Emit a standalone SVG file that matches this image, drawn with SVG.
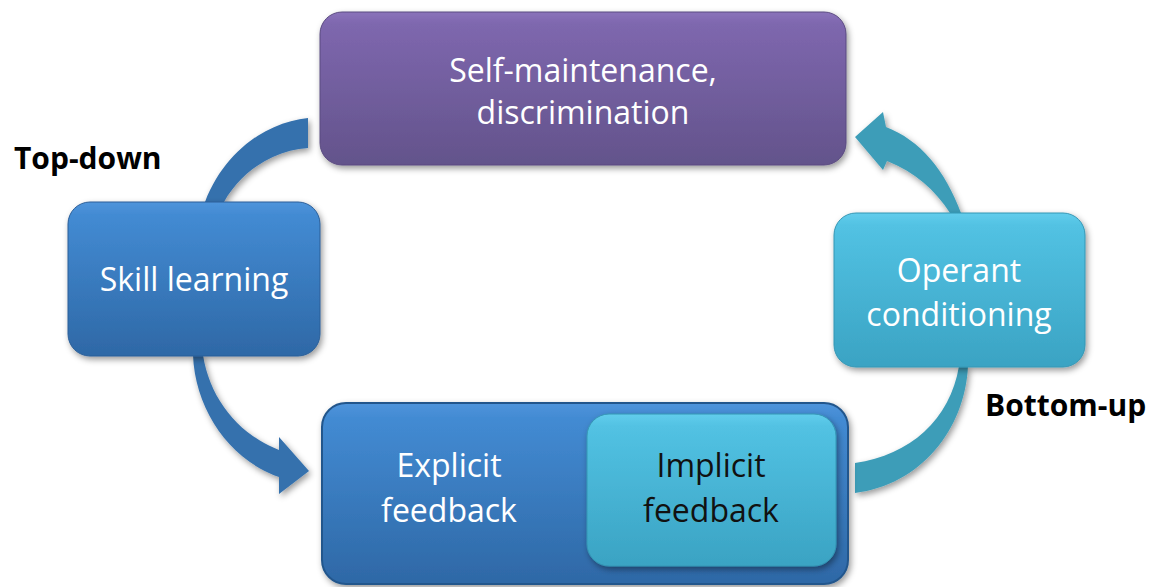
<svg xmlns="http://www.w3.org/2000/svg" width="1161" height="587" viewBox="0 0 1161 587">
<defs>
<linearGradient id="gPurple" x1="0" y1="0" x2="0" y2="1">
<stop offset="0" stop-color="#8a72ba"/><stop offset="0.08" stop-color="#7e67ae"/><stop offset="1" stop-color="#63538b"/>
</linearGradient>
<linearGradient id="gBlue" x1="0" y1="0" x2="0" y2="1">
<stop offset="0" stop-color="#4f94db"/><stop offset="0.08" stop-color="#438bd3"/><stop offset="1" stop-color="#2e68a6"/>
</linearGradient>
<linearGradient id="gCyan" x1="0" y1="0" x2="0" y2="1">
<stop offset="0" stop-color="#62cdec"/><stop offset="0.08" stop-color="#52c2e3"/><stop offset="1" stop-color="#3aa3c3"/>
</linearGradient>
<filter id="sh" x="-10%" y="-10%" width="125%" height="130%">
<feDropShadow dx="2" dy="3" stdDeviation="3" flood-color="#000" flood-opacity="0.4"/>
</filter>
</defs>
<style>
.lbl{font-family:"Open Sans","Liberation Sans",sans-serif;font-size:32px;text-anchor:middle;fill:#ffffff}
.dark{fill:#111111}
.side{font-family:"Open Sans","Liberation Sans",sans-serif;font-size:30px;font-weight:bold;fill:#000}
.arrB{fill:#3571ad;filter:url(#sh)}
.arrC{fill:#3e9db8;filter:url(#sh)}
</style>
<g id="connectors">
<path class="arrB" d="M308,118 C268,122 225,150 205,202 L224,202 C242,170 275,150 308,148 Z"/>
<path class="arrB" d="M193,355 C195,410 230,460 279,477 L279,494 L309,471 L279,437 L279,450 C240,435 210,400 203,355 Z"/>
<path class="arrC" d="M968,366 C965,430 920,485 855,493 L855,463 C910,455 950,420 959,366 Z"/>
<path class="arrC" d="M961,213 C945,170 920,140 886,127 L883,112 L855,137 L883,170 L887,161 C915,172 935,190 950,213 Z"/>
</g>
<g id="top">
<rect x="320" y="12" width="526" height="153" rx="22" fill="url(#gPurple)" stroke="#5a4a80" stroke-width="1" filter="url(#sh)"/>
<text class="lbl" x="583" y="82">Self-maintenance,</text>
<text class="lbl" x="583" y="124">discrimination</text>
</g>
<g id="skill">
<rect x="68" y="202" width="252" height="154" rx="22" fill="url(#gBlue)" stroke="#2a5e98" stroke-width="1" filter="url(#sh)"/>
<text class="lbl" x="194" y="291">Skill learning</text>
</g>
<g id="operant">
<rect x="834" y="213" width="251" height="154" rx="22" fill="url(#gCyan)" stroke="#3596b4" stroke-width="1" filter="url(#sh)"/>
<text class="lbl" x="959" y="282">Operant</text>
<text class="lbl" x="959" y="326">conditioning</text>
</g>
<g id="feedback">
<rect x="322" y="403" width="526" height="181" rx="24" fill="url(#gBlue)" stroke="#23568c" stroke-width="2" filter="url(#sh)"/>
<text class="lbl" x="449" y="477">Explicit</text>
<text class="lbl" x="449" y="522">feedback</text>
</g>
<g id="implicit">
<rect x="587" y="414" width="249" height="152" rx="22" fill="url(#gCyan)" stroke="#3596b4" stroke-width="1" filter="url(#sh)"/>
<text class="lbl dark" x="711" y="477">Implicit</text>
<text class="lbl dark" x="711" y="522">feedback</text>
</g>
<text class="side" x="14" y="169">Top-down</text>
<text class="side" x="985" y="416">Bottom-up</text>
</svg>
